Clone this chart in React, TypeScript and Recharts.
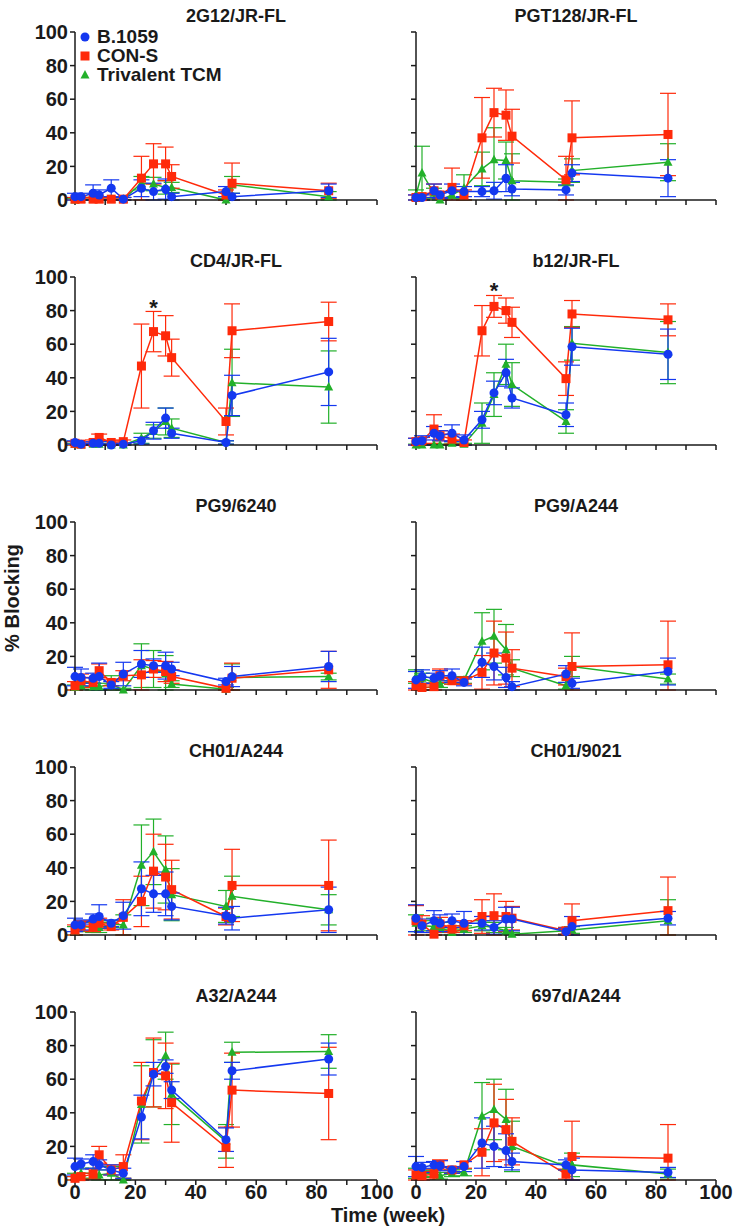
import React from "react";
import { LineChart, Line, XAxis, YAxis, ErrorBar, ReferenceDot } from "recharts";

const BLUE = "#1438f0";
const RED = "#ff2a0a";
const GREEN = "#22b02a";
const INK = "#1a1a1a";
const FONT = "Arial, 'Liberation Sans', Helvetica, sans-serif";

const weeks = [0, 2, 6, 8, 12, 16, 22, 26, 30, 32, 50, 52, 84];
const xTicks = [0, 10, 20, 30, 40, 50, 60, 70, 80, 90, 100];
const yTicks = [0, 20, 40, 60, 80, 100];
const seriesNames = ["B.1059", "CON-S", "Trivalent TCM"];

// 2G12/JR-FL
const blue2G12 = [2, 2, 4, 3, 7, 0.5, 7, 5, 6.5, 2, 5, 2, 5.5];
const blue2G12Err = [2, 2, 5, 3, 5, 1, 5, 5, 6, 2, 3, 2, 4];
const red2G12 = [0.5, 0.5, 0.5, 0.5, 0.5, 0.5, 13, 21.5, 21.5, 14, 3, 10, 5.5];
const red2G12Err = [1, 1, 1, 1, 1, 1, 13, 12, 10, 7, 3, 12, 4.5];
const green2G12 = [0, 0.5, 0.5, 0.5, 0.5, 0.5, 10, 9.5, 7.5, 7.5, 0, 9, 2];
const green2G12Err = [1, 1, 1, 1, 1, 1, 4, 4, 4, 3, 1, 5, 3];

// PGT128/JR-FL
const bluePGT128 = [1.5, 1.5, 5.5, 3, 5.5, 5, 5, 5.5, 13, 6.5, 6, 16, 13];
const bluePGT128Err = [1.5, 1.5, 4, 2, 4, 3, 3, 5, 8, 4, 3, 5, 11];
const redPGT128 = [1.5, 2, 5.5, 3, 7.5, 3, 37, 52, 50.5, 38, 12, 37, 39];
const redPGT128Err = [1.5, 2, 4, 2, 11.5, 3, 24, 14.5, 15, 16, 14, 22, 24.5];
const greenPGT128 = [3, 16, 4, 0, 3, 7, 18.5, 24, 23.5, 11.5, 10.5, 17.5, 22.5];
const greenPGT128Err = [3, 16, 3, 1, 2, 8, 10, 19, 11, 16, 2, 7, 11];

// CD4/JR-FL
const blueCD4 = [1.5, 0.5, 1, 1, 0, 0.5, 2.5, 8.5, 16, 7, 1.5, 29.5, 43.5];
const blueCD4Err = [1, 0.5, 1, 1, 0.5, 0.5, 2, 5, 6, 3, 1, 12, 20];
const redCD4 = [1, 0.5, 1.5, 4.5, 1.5, 2, 47, 67.5, 65, 52, 14, 68, 73.5];
const redCD4Err = [1, 0.5, 1.5, 2, 1, 1, 25, 12, 12, 11, 8, 16, 11.5];
const greenCD4 = [0.5, 0, 0.5, 0.5, 0, 0, 4, 8, 14, 10, 1.5, 37, 34.5];
const greenCD4Err = [0.5, 0.5, 0.5, 0.5, 0.5, 0.5, 3, 4, 8, 5.5, 1, 20, 21.5];

// b12/JR-FL
const blueB12 = [2, 2.5, 7, 5.5, 7, 3, 15, 31, 43, 28, 18, 58.5, 54];
const blueB12Err = [2, 3, 4, 3, 5, 3, 5, 7, 8, 6, 7, 11, 15];
const redB12 = [2, 2.5, 9.5, 5.5, 3.5, 1.5, 68, 82.5, 80, 73, 39.5, 78, 74.5];
const redB12Err = [2, 2, 8.5, 3, 3, 1.5, 15, 6.5, 7.5, 9, 10, 8, 9.5];
const greenB12 = [0, 0, 0, 0, 1, 0.5, 13, 30, 48, 36, 14, 60.5, 55];
const greenB12Err = [0.5, 0.5, 0.5, 0.5, 1, 0.5, 12, 13, 12, 13, 7, 10, 18.5];

// PG9/6240
const bluePG9a = [8, 7.5, 7, 8, 3, 9.5, 15.5, 14.5, 14.5, 12.5, 5, 8, 14];
const bluePG9aErr = [5.5, 5, 3, 8, 2, 7, 8, 4, 8, 4, 2, 6, 9];
const redPG9a = [2.5, 5.5, 4.5, 11.5, 4.5, 8.5, 9, 12.5, 11, 8, 1, 7, 12];
const redPG9aErr = [2.5, 4, 3, 4, 2, 3, 9, 5, 6, 4, 1, 9, 11];
const greenPG9a = [1.5, 2.5, 2, 2, 3.5, 0, 14.5, 12.5, 9.5, 3.5, 0.5, 7.5, 8];
const greenPG9aErr = [1.5, 2, 2, 2, 5, 1, 13, 11, 11, 2, 1, 8, 2];

// PG9/A244
const bluePG9b = [6, 8, 7, 8.5, 8.5, 4.5, 16.5, 14, 7.5, 2, 9.5, 4, 11];
const bluePG9bErr = [5, 4, 3, 3, 4, 2, 9, 8, 6, 3, 5, 3, 8];
const redPG9b = [2.5, 1.5, 2, 8.5, 5.5, 5.5, 10.5, 22, 19, 13, 8, 14, 15];
const redPG9bErr = [2.5, 1.5, 2, 4, 2, 2, 10, 19, 15.5, 11, 5, 20, 26];
const greenPG9b = [8, 7, 4.5, 3.5, 5.5, 6, 29, 32, 24, 13, 2.5, 14, 6.5];
const greenPG9bErr = [4, 3, 3, 2, 2, 2, 17, 16, 15, 5, 2, 6, 3];

// CH01/A244
const blueCH01a = [6, 6, 9.5, 11, 7, 11.5, 27.5, 24.5, 24.5, 17, 11.5, 10, 15];
const blueCH01aErr = [4, 3, 3, 7, 2, 8, 16, 11, 13, 8, 5, 7, 13.5];
const redCH01a = [3, 5.5, 5, 7, 5, 10.5, 20, 38, 34.5, 27, 11, 29.5, 29.5];
const redCH01aErr = [3, 3, 3, 3, 2, 10.5, 15, 22, 19.5, 17.5, 5, 21.5, 27];
const greenCH01a = [2.5, 5, 4.5, 4.5, 6.5, 6, 41.5, 49.5, 39, 24, 17, 23, 15];
const greenCH01aErr = [2.5, 3, 3, 3, 2, 6, 24, 19.5, 20, 15.5, 9.5, 12, 9];

// CH01/9021
const blueCH01b = [10, 5.5, 8.5, 7, 8.5, 7, 7, 4.5, 9.5, 9.5, 2, 5, 10];
const blueCH01bErr = [8, 4, 6, 5, 4, 7, 4, 4, 7, 7, 2, 6, 4];
const redCH01b = [8.5, 6.5, 0.5, 6.5, 3.5, 5.5, 11, 11.5, 11, 10, 2.5, 8.5, 14.5];
const redCH01bErr = [9, 5, 1, 4, 2, 3, 10, 13, 9, 7, 2, 10, 20];
const greenCH01b = [7, 5.5, 5, 4.5, 1.5, 3.5, 5.5, 4.5, 2.5, 0.5, 2.5, 3, 8.5];
const greenCH01bErr = [5, 3, 5, 3, 2, 2, 3, 3, 2, 1, 2, 2, 12.5];

// A32/A244
const blueA32 = [8, 9.5, 11, 9, 6, 4, 37.5, 63, 67.5, 53.5, 24, 65, 72];
const blueA32Err = [5, 3, 4, 3, 3, 3, 13, 7, 4, 5, 7, 5, 9.5];
const redA32 = [1, 2, 3.5, 15, 6, 8, 47, 64, 62, 46, 19.5, 53.5, 51.5];
const redA32Err = [1, 2, 3, 5, 3, 7, 23, 20.5, 19.5, 23.5, 12, 22, 27.5];
const greenA32 = [2, 4, 4, 3, 4, 0, 45, 63.5, 74, 51, 23, 76, 76.5];
const greenA32Err = [2, 3, 3, 3, 4, 1, 23, 20, 14, 18, 10, 6, 10];

// 697d/A244
const blue697d = [8, 7.5, 9, 8.5, 6, 8, 22, 20, 17.5, 11, 9, 6, 4.5];
const blue697dErr = [6, 3, 2, 3, 2, 3, 15, 12, 10, 5, 3, 7, 3];
const red697d = [3, 2.5, 3.5, 9, 6, 9, 16.5, 34, 30, 23, 3.5, 14, 13];
const red697dErr = [3, 2.5, 3, 3, 2, 2, 14, 23, 18, 14, 3, 21, 20];
const green697d = [4, 3.5, 4, 2.5, 4, 4.5, 38, 42, 36, 20, 8, 9, 3.5];
const green697dErr = [3, 2, 2, 2, 2, 2, 20, 18, 18, 15, 2, 7, 3];

const panels = [
  { title: "2G12/JR-FL", b: blue2G12, bE: blue2G12Err, r: red2G12, rE: red2G12Err, g: green2G12, gE: green2G12Err, star: null },
  { title: "PGT128/JR-FL", b: bluePGT128, bE: bluePGT128Err, r: redPGT128, rE: redPGT128Err, g: greenPGT128, gE: greenPGT128Err, star: null },
  { title: "CD4/JR-FL", b: blueCD4, bE: blueCD4Err, r: redCD4, rE: redCD4Err, g: greenCD4, gE: greenCD4Err, star: 82 },
  { title: "b12/JR-FL", b: blueB12, bE: blueB12Err, r: redB12, rE: redB12Err, g: greenB12, gE: greenB12Err, star: 92 },
  { title: "PG9/6240", b: bluePG9a, bE: bluePG9aErr, r: redPG9a, rE: redPG9aErr, g: greenPG9a, gE: greenPG9aErr, star: null },
  { title: "PG9/A244", b: bluePG9b, bE: bluePG9bErr, r: redPG9b, rE: redPG9bErr, g: greenPG9b, gE: greenPG9bErr, star: null },
  { title: "CH01/A244", b: blueCH01a, bE: blueCH01aErr, r: redCH01a, rE: redCH01aErr, g: greenCH01a, gE: greenCH01aErr, star: null },
  { title: "CH01/9021", b: blueCH01b, bE: blueCH01bErr, r: redCH01b, rE: redCH01bErr, g: greenCH01b, gE: greenCH01bErr, star: null },
  { title: "A32/A244", b: blueA32, bE: blueA32Err, r: redA32, rE: redA32Err, g: greenA32, gE: greenA32Err, star: null },
  { title: "697d/A244", b: blue697d, bE: blue697dErr, r: red697d, rE: red697dErr, g: green697d, gE: green697dErr, star: null },
];

const STAR_WEEK = 26;

// error bars are clipped at 0 like in the original
const err = (v: number, e: number) => [Math.min(v, e), e];

const shape = (kind: string, color: string) => (p: any) => {
  const { cx, cy, index } = p;
  if (cx == null || cy == null) return <g key={`d-${index}`} />;
  if (kind === "circle") return <circle key={`d-${index}`} cx={cx} cy={cy} r={4.5} fill={color} />;
  if (kind === "square") return <rect key={`d-${index}`} x={cx - 4.5} y={cy - 4.5} width={9} height={9} fill={color} />;
  return <path key={`d-${index}`} d={`M${cx},${cy - 5} L${cx + 4.5},${cy + 3.5} L${cx - 4.5},${cy + 3.5} Z`} fill={color} />;
};

const YTick = (props: any) => {
  const { x, y, payload, show } = props;
  if (!show) return <g />;
  return (
    <text x={x} y={y} dy="0.36em" textAnchor="end" fontFamily={FONT} fontSize={20} fontWeight="bold" fill={INK}>
      {payload.value}
    </text>
  );
};

const XTick = (props: any) => {
  const { x, y, payload, show } = props;
  if (!show || payload.value % 20 !== 0) return <g />;
  return (
    <text x={x} y={y} dy="0.72em" textAnchor="middle" fontFamily={FONT} fontSize={20} fontWeight="bold" fill={INK}>
      {payload.value}
    </text>
  );
};

const PLOT_H = 168;
const TOP_PAD = 12;
const RIGHT_PAD = 24;

const Panel = ({ p, idx }: { p: any; idx: number }) => {
  const col = idx % 2;
  const row = Math.floor(idx / 2);
  const plotLeft = col === 0 ? 75 : 416;
  const plotW = col === 0 ? 302 : 300;
  const plotTop = 32 + row * 245;
  const data = weeks.map((t, k) => ({
    t,
    b: p.b[k],
    bE: err(p.b[k], p.bE[k]),
    r: p.r[k],
    rE: err(p.r[k], p.rE[k]),
    g: p.g[k],
    gE: err(p.g[k], p.gE[k]),
  }));
  const axisStyle = { stroke: INK, strokeWidth: 1.5 };
  return (
    <>
      <div
        style={{
          position: "absolute",
          left: plotLeft,
          width: plotW + 20,
          top: plotTop - 26,
          textAlign: "center",
          fontFamily: FONT,
          fontWeight: "bold",
          fontSize: 18,
          lineHeight: "20px",
          color: INK,
        }}
      >
        {p.title}
      </div>
      <div style={{ position: "absolute", left: plotLeft - 75, top: plotTop - TOP_PAD }}>
        <LineChart
          width={75 + plotW + RIGHT_PAD}
          height={TOP_PAD + PLOT_H + 30}
          data={data}
          margin={{ top: TOP_PAD, right: RIGHT_PAD, bottom: 0, left: 25 }}
        >
          <XAxis
            dataKey="t"
            type="number"
            domain={[0, 100]}
            ticks={xTicks}
            interval={0}
            height={30}
            tickSize={5}
            tickMargin={0}
            axisLine={axisStyle}
            tickLine={axisStyle}
            tick={<XTick show={row === 4} />}
          />
          <YAxis
            type="number"
            domain={[0, 100]}
            ticks={yTicks}
            interval={0}
            width={50}
            tickSize={5}
            tickMargin={2}
            axisLine={axisStyle}
            tickLine={axisStyle}
            tick={<YTick show={col === 0} />}
          />
          <Line dataKey="g" stroke={GREEN} strokeWidth={1.5} dot={shape("triangle", GREEN)} activeDot={false} isAnimationActive={false}>
            <ErrorBar dataKey="gE" width={8} stroke={GREEN} strokeWidth={1.2} direction="y" />
          </Line>
          <Line dataKey="r" stroke={RED} strokeWidth={1.5} dot={shape("square", RED)} activeDot={false} isAnimationActive={false}>
            <ErrorBar dataKey="rE" width={8} stroke={RED} strokeWidth={1.2} direction="y" />
          </Line>
          <Line dataKey="b" stroke={BLUE} strokeWidth={1.5} dot={shape("circle", BLUE)} activeDot={false} isAnimationActive={false}>
            <ErrorBar dataKey="bE" width={8} stroke={BLUE} strokeWidth={1.2} direction="y" />
          </Line>
          {p.star != null && (
            <ReferenceDot
              x={STAR_WEEK}
              y={p.star}
              r={1}
              fill="none"
              stroke="none"
              label={{ value: "*", position: "center", fill: INK, fontSize: 22, fontWeight: "bold", fontFamily: FONT }}
            />
          )}
        </LineChart>
      </div>
    </>
  );
};

const legendMarks = [shape("circle", BLUE), shape("square", RED), shape("triangle", GREEN)];

export default function App() {
  return (
    <div style={{ position: "absolute", left: 0, top: 0, width: 733, height: 1229, background: "#fff", overflow: "hidden" }}>
      {panels.map((p, i) => (
        <Panel key={p.title} p={p} idx={i} />
      ))}
      {/* legend in the first panel */}
      <div style={{ position: "absolute", left: 78, top: 27 }}>
        {seriesNames.map((name, i) => (
          <div key={name} style={{ display: "flex", alignItems: "center", height: 19 }}>
            <svg width={16} height={14}>
              {legendMarks[i]({ cx: 7, cy: 7, index: i })}
            </svg>
            <span style={{ marginLeft: 3, fontFamily: FONT, fontWeight: "bold", fontSize: 19, color: INK, lineHeight: "19px" }}>
              {name}
            </span>
          </div>
        ))}
      </div>
      <div
        style={{
          position: "absolute",
          left: 12,
          top: 598,
          transform: "translate(-50%, -50%) rotate(-90deg)",
          whiteSpace: "nowrap",
          fontFamily: FONT,
          fontWeight: "bold",
          fontSize: 20,
          color: INK,
        }}
      >
        % Blocking
      </div>
      <div
        style={{
          position: "absolute",
          left: 388,
          top: 1215,
          transform: "translate(-50%, -50%)",
          whiteSpace: "nowrap",
          fontFamily: FONT,
          fontWeight: "bold",
          fontSize: 20,
          color: INK,
        }}
      >
        Time (week)
      </div>
    </div>
  );
}
